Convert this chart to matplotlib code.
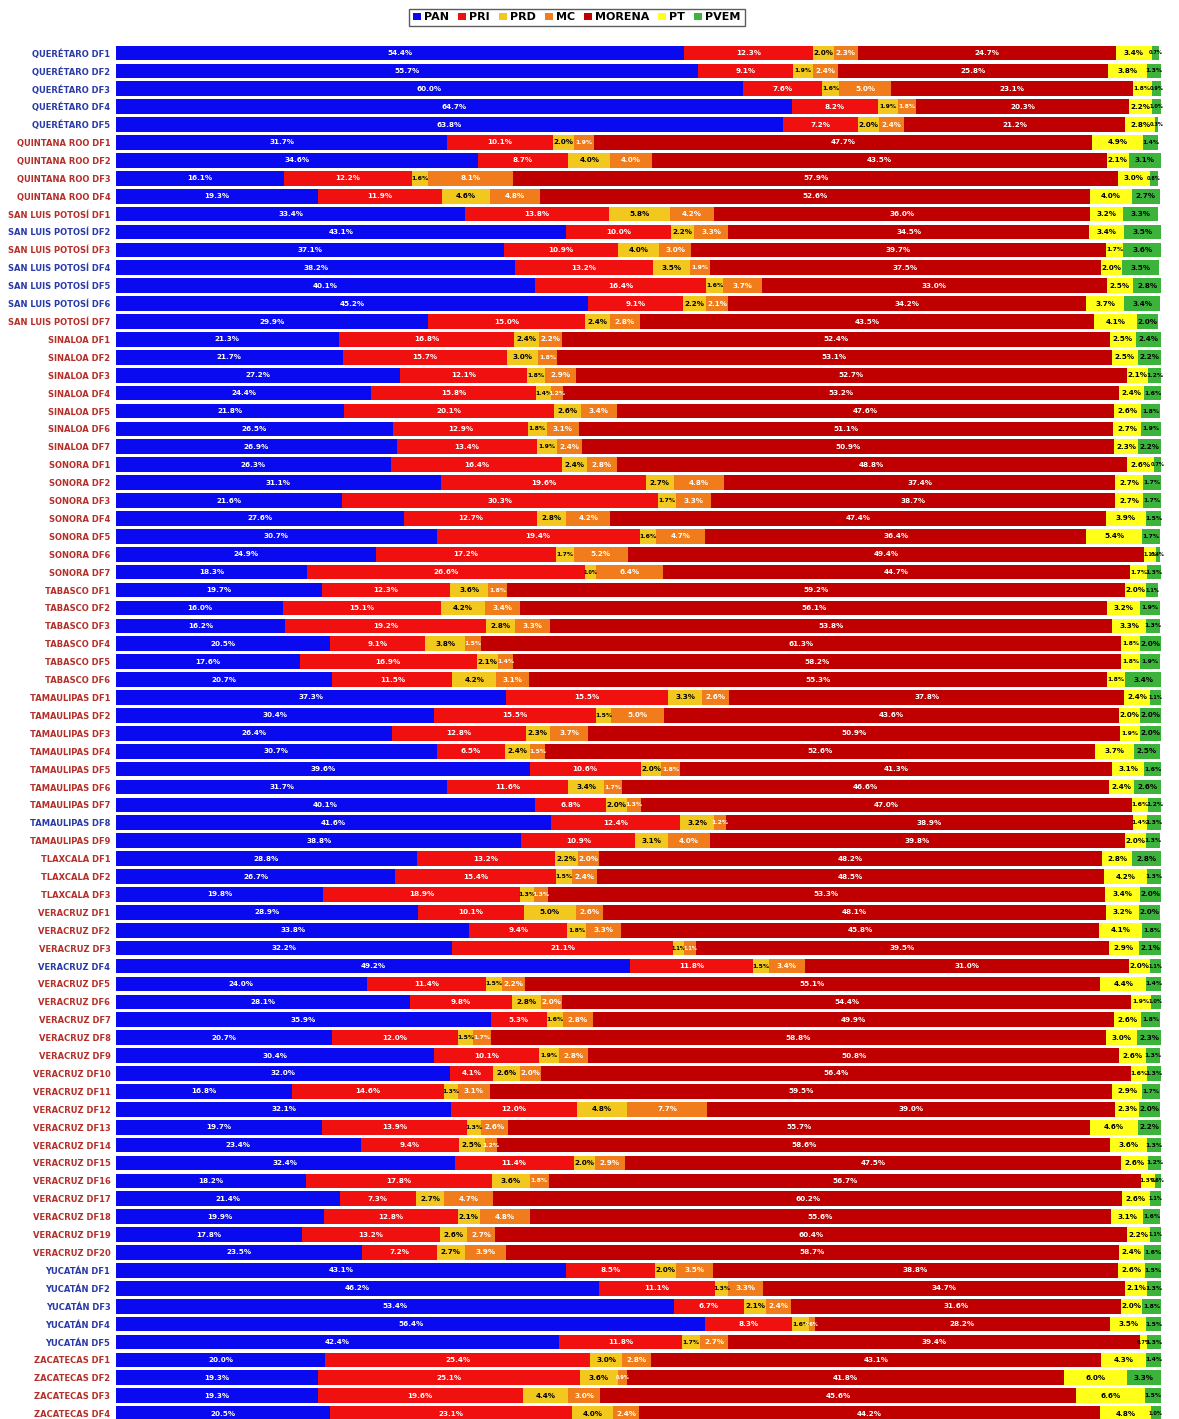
import matplotlib
matplotlib.use('Agg')
import matplotlib.pyplot as plt
import numpy as np
from matplotlib.patches import Patch

plt.rcParams['font.family'] = ['Liberation Sans Narrow', 'DejaVu Sans']

states = ["QUERÉTARO", "QUINTANA ROO", "SAN LUIS POTOSÍ", "SINALOA", "SONORA",
          "TABASCO", "TAMAULIPAS", "TLAXCALA", "VERACRUZ", "YUCATÁN", "ZACATECAS"]
districts_per_state = [5, 4, 7, 7, 7, 6, 9, 3, 20, 5, 4]
labels = [f"{s} DF{k}" for s, c in zip(states, districts_per_state) for k in range(1, c + 1)]

parties = ["PAN", "PRI", "PRD", "MC", "MORENA", "PT", "PVEM"]

PAN = [54.4, 55.7, 60.0, 64.7, 63.8,
       31.7, 34.6, 16.1, 19.3,
       33.4, 43.1, 37.1, 38.2, 40.1, 45.2, 29.9,
       21.3, 21.7, 27.2, 24.4, 21.8, 26.5, 26.9,
       26.3, 31.1, 21.6, 27.6, 30.7, 24.9, 18.3,
       19.7, 16.0, 16.2, 20.5, 17.6, 20.7,
       37.3, 30.4, 26.4, 30.7, 39.6, 31.7, 40.1, 41.6, 38.8,
       28.8, 26.7, 19.8,
       28.9, 33.8, 32.2, 49.2, 24.0, 28.1, 35.9, 20.7, 30.4, 32.0,
       16.8, 32.1, 19.7, 23.4, 32.4, 18.2, 21.4, 19.9, 17.8, 23.5,
       43.1, 46.2, 53.4, 56.4, 42.4,
       20.0, 19.3, 19.3, 20.5]
PRI = [12.3, 9.1, 7.6, 8.2, 7.2,
       10.1, 8.7, 12.2, 11.9,
       13.8, 10.0, 10.9, 13.2, 16.4, 9.1, 15.0,
       16.8, 15.7, 12.1, 15.8, 20.1, 12.9, 13.4,
       16.4, 19.6, 30.3, 12.7, 19.4, 17.2, 26.6,
       12.3, 15.1, 19.2, 9.1, 16.9, 11.5,
       15.5, 15.5, 12.8, 6.5, 10.6, 11.6, 6.8, 12.4, 10.9,
       13.2, 15.4, 18.9,
       10.1, 9.4, 21.1, 11.8, 11.4, 9.8, 5.3, 12.0, 10.1, 4.1,
       14.6, 12.0, 13.9, 9.4, 11.4, 17.8, 7.3, 12.8, 13.2, 7.2,
       8.5, 11.1, 6.7, 8.3, 11.8,
       25.4, 25.1, 19.6, 23.1]
PRD = [2.0, 1.9, 1.6, 1.9, 2.0,
       2.0, 4.0, 1.6, 4.6,
       5.8, 2.2, 4.0, 3.5, 1.6, 2.2, 2.4,
       2.4, 3.0, 1.8, 1.4, 2.6, 1.8, 1.9,
       2.4, 2.7, 1.7, 2.8, 1.6, 1.7, 1.0,
       3.6, 4.2, 2.8, 3.8, 2.1, 4.2,
       3.3, 1.5, 2.3, 2.4, 2.0, 3.4, 2.0, 3.2, 3.1,
       2.2, 1.5, 1.3,
       5.0, 1.8, 1.1, 1.5, 1.5, 2.8, 1.6, 1.5, 1.9, 2.6,
       1.3, 4.8, 1.3, 2.5, 2.0, 3.6, 2.7, 2.1, 2.6, 2.7,
       2.0, 1.3, 2.1, 1.6, 1.7,
       3.0, 3.6, 4.4, 4.0]
MC = [2.3, 2.4, 5.0, 1.8, 2.4,
      1.9, 4.0, 8.1, 4.8,
      4.2, 3.3, 3.0, 1.9, 3.7, 2.1, 2.8,
      2.2, 1.8, 2.9, 1.2, 3.4, 3.1, 2.4,
      2.8, 4.8, 3.3, 4.2, 4.7, 5.2, 6.4,
      1.8, 3.4, 3.3, 1.5, 1.4, 3.1,
      2.6, 5.0, 3.7, 1.5, 1.8, 1.7, 1.3, 1.2, 4.0,
      2.0, 2.4, 1.3,
      2.6, 3.3, 1.1, 3.4, 2.2, 2.0, 2.8, 1.7, 2.8, 2.0,
      3.1, 7.7, 2.6, 1.2, 2.9, 1.8, 4.7, 4.8, 2.7, 3.9,
      3.5, 3.3, 2.4, 0.6, 2.7,
      2.8, 0.9, 3.0, 2.4]
MORENA = [24.7, 25.8, 23.1, 20.3, 21.2,
          47.7, 43.5, 57.9, 52.6,
          36.0, 34.5, 39.7, 37.5, 33.0, 34.2, 43.5,
          52.4, 53.1, 52.7, 53.2, 47.6, 51.1, 50.9,
          48.8, 37.4, 38.7, 47.4, 36.4, 49.4, 44.7,
          59.2, 56.1, 53.8, 61.3, 58.2, 55.3,
          37.8, 43.6, 50.9, 52.6, 41.3, 46.6, 47.0, 38.9, 39.8,
          48.2, 48.5, 53.3,
          48.1, 45.8, 39.5, 31.0, 55.1, 54.4, 49.9, 58.8, 50.8, 56.4,
          59.5, 39.0, 55.7, 58.6, 47.5, 56.7, 60.2, 55.6, 60.4, 58.7,
          38.8, 34.7, 31.6, 28.2, 39.4,
          43.1, 41.8, 45.6, 44.2]
PT = [3.4, 3.8, 1.8, 2.2, 2.8,
      4.9, 2.1, 3.0, 4.0,
      3.2, 3.4, 1.7, 2.0, 2.5, 3.7, 4.1,
      2.5, 2.5, 2.1, 2.4, 2.6, 2.7, 2.3,
      2.6, 2.7, 2.7, 3.9, 5.4, 1.1, 1.7,
      2.0, 3.2, 3.3, 1.8, 1.8, 1.8,
      2.4, 2.0, 1.9, 3.7, 3.1, 2.4, 1.6, 1.4, 2.0,
      2.8, 4.2, 3.4,
      3.2, 4.1, 2.9, 2.0, 4.4, 1.9, 2.6, 3.0, 2.6, 1.6,
      2.9, 2.3, 4.6, 3.6, 2.6, 1.3, 2.6, 3.1, 2.2, 2.4,
      2.6, 2.1, 2.0, 3.5, 0.7,
      4.3, 6.0, 6.6, 4.8]
PVEM = [0.7, 1.3, 0.9, 1.0, 0.3,
        1.4, 3.1, 0.8, 2.7,
        3.3, 3.5, 3.6, 3.5, 2.8, 3.4, 2.0,
        2.4, 2.2, 1.2, 1.6, 1.8, 1.9, 2.2,
        0.7, 1.7, 1.7, 1.5, 1.7, 0.4, 1.3,
        1.1, 1.9, 1.3, 2.0, 1.9, 3.4,
        1.1, 2.0, 2.0, 2.5, 1.6, 2.6, 1.2, 1.3, 1.3,
        2.8, 1.3, 2.0,
        2.0, 1.8, 2.1, 1.1, 1.4, 1.0, 1.8, 2.3, 1.3, 1.3,
        1.7, 2.0, 2.2, 1.3, 1.2, 0.6, 1.1, 1.6, 1.1, 1.6,
        1.5, 1.3, 1.8, 1.5, 1.3,
        1.4, 3.3, 1.5, 1.0]

series = [PAN, PRI, PRD, MC, MORENA, PT, PVEM]
colors = ['#0a0af0', '#f01010', '#f2c81e', '#f07c1c', '#c00000', '#ffff1a', '#3cb43c']
text_colors = ['white', 'white', 'black', 'white', 'white', 'black', 'black']

fig = plt.figure(figsize=(11.79, 14.19), dpi=100)
ax = fig.add_axes([116 / 1179, 0.0, (1161 - 116) / 1179, 1 - 44 / 1419])

n = len(labels)
y = np.arange(n)
left = np.zeros(n)
for name, vals, col, tcol in zip(parties, series, colors, text_colors):
    vals = np.array(vals, dtype=float)
    ax.barh(y, vals, left=left, height=0.82, color=col, edgecolor='none', label=name)
    for i in range(n):
        fs = 5.2 if vals[i] >= 2.0 else (4.4 if vals[i] >= 1.2 else 3.6)
        ax.text(left[i] + vals[i] / 2, y[i], f"{vals[i]:.1f}%", ha='center', va='center',
                fontsize=fs, fontweight='bold', color=tcol)
    left += vals

ax.set_xlim(0, 100)
ax.set_ylim(76.3, -0.5)
ax.set_xticks([])
ax.set_yticks(y)
ax.set_yticklabels(labels, fontsize=6.0, fontweight='bold')
ax.tick_params(axis='y', length=0, pad=4)
for lab, p, m in zip(ax.get_yticklabels(), PAN, MORENA):
    lab.set_color('#2a3aa8' if p > m else '#b5302a')
for s in ax.spines.values():
    s.set_visible(False)

handles = [Patch(facecolor=c, label=p) for p, c in zip(parties, colors)]
fig.legend(handles=handles, loc='upper center', bbox_to_anchor=(577 / 1179, 1 - 3 / 1419),
           ncol=7, prop={'weight': 'bold', 'size': 8}, frameon=True, fancybox=False,
           edgecolor='#333333', handlelength=0.7, handleheight=0.7, columnspacing=0.8,
           handletextpad=0.3, borderpad=0.35)

fig.savefig('out.png', dpi=100)
